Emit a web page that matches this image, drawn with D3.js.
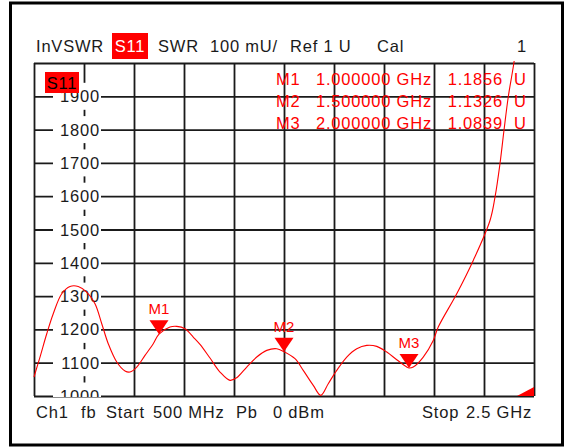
<!DOCTYPE html>
<html>
<head>
  <meta charset="UTF-8">
  <title>InVSWR S11</title>
  <style>
    body { margin: 0; background: #fff; }
    text { font-family: "Liberation Sans", Arial, sans-serif; font-size: 16.5px; letter-spacing: 0.8px; }
  </style>
</head>
<body>
  <script src="https://d3js.org/d3.v7.min.js"></script>
  <script>
// trace data: frequency (GHz) and SWR (mU)
var freqGHz = [0.5, 0.524, 0.551, 0.577, 0.611, 0.644, 0.677, 0.711, 0.744, 0.771, 0.797, 0.831, 0.864, 0.884,
  0.911, 0.944, 0.977, 1.0, 1.044, 1.071, 1.104, 1.137, 1.164, 1.204, 1.244, 1.284, 1.311, 1.351, 1.391, 1.431,
  1.471, 1.5, 1.544, 1.577, 1.617, 1.647, 1.677, 1.711, 1.751, 1.791, 1.831, 1.871, 1.911, 1.951, 1.991, 2.0,
  2.017, 2.057, 2.097, 2.117, 2.191, 2.257, 2.324, 2.344, 2.364, 2.38, 2.397, 2.417, 2.45, 2.5];
var swrMU = [1057, 1117, 1187, 1247, 1307, 1329, 1329, 1312, 1277, 1217, 1157, 1102, 1075, 1072,
  1087, 1122, 1157, 1186, 1207, 1209, 1202, 1177, 1155, 1114, 1072, 1047, 1055, 1087, 1117, 1137,
  1142, 1133, 1112, 1077, 1032, 1002, 1037, 1077, 1117, 1142, 1152, 1149, 1132, 1109, 1087, 1084,
  1087, 1117, 1167, 1207, 1307, 1407, 1527, 1597, 1698, 1798, 1898, 1988, 2150, 2400];

// markers
var markerNames = ["M1", "M2", "M3"];
var markerFreq = [1.0, 1.5, 2.0];
var markerVal = [1.1856, 1.1326, 1.0839];

// axis labels
var yLabels = [1000, 1100, 1200, 1300, 1400, 1500, 1600, 1700, 1800, 1900];
var xGrid = [0.5, 0.7, 0.9, 1.1, 1.3, 1.5, 1.7, 1.9, 2.1, 2.3, 2.5];
var yGrid = [1000, 1100, 1200, 1300, 1400, 1500, 1600, 1700, 1800, 1900, 2000];

var W = 567, H = 447;
var pL = 34, pR = 534, pT = 63, pB = 396;
var ink = "#1a1a1a", red = "#ff0000";

var svg = d3.select("body").append("svg").attr("width", W).attr("height", H);

var x = d3.scaleLinear().domain([0.5, 2.5]).range([pL, pR]);
var y = d3.scaleLinear().domain([1000, 2000]).range([pB, pT]);

// outer frame
svg.append("rect")
  .attr("x", 10.5).attr("y", 3).attr("width", 552).attr("height", 442)
  .attr("fill", "none").attr("stroke", "#000").attr("stroke-width", 3);

svg.append("clipPath").attr("id", "plot")
  .append("rect").attr("x", pL - 2).attr("y", pT - 2)
  .attr("width", pR - pL + 4).attr("height", pB - pT + 3);

// grid
var gx = svg.append("g").attr("transform", "translate(0," + pB + ")")
  .call(d3.axisBottom(x).tickValues(xGrid).tickSize(-(pB - pT)).tickFormat(""));
var gy = svg.append("g").attr("transform", "translate(" + pL + ",0)")
  .call(d3.axisLeft(y).tickValues(yGrid).tickSize(-(pR - pL)).tickFormat(""));
[gx, gy].forEach(g => {
  g.select(".domain").remove();
  g.selectAll("line").attr("stroke", ink).attr("stroke-width", 1.8);
});

// y labels with white boxes over the grid
var lab = svg.append("g").attr("clip-path", "url(#plot)");
var labG = lab.selectAll("g").data(yLabels).enter().append("g")
  .attr("transform", d => "translate(0," + y(d) + ")");
labG.append("rect").attr("x", 53).attr("y", -13.5).attr("width", 48).attr("height", 27).attr("fill", "#fff");
labG.append("text").attr("x", 100).attr("y", 6).attr("text-anchor", "end")
  .attr("fill", ink).text(d => d);

// trace
var pts = freqGHz.map((f, i) => [f, swrMU[i]]);
svg.append("path")
  .attr("clip-path", "url(#plot)")
  .attr("d", d3.line().x(d => x(d[0])).y(d => y(d[1])).curve(d3.curveCatmullRom.alpha(0.5))(pts))
  .attr("fill", "none").attr("stroke", red).attr("stroke-width", 1.1);

// off-scale corner mark
svg.append("path")
  .attr("d", "M" + (x(2.5) - 17) + "," + y(1000) + "L" + x(2.5) + "," + (y(1000) - 9) + "L" + x(2.5) + "," + y(1000) + "Z")
  .attr("fill", red);

// markers
markerNames.forEach((m, i) => {
  var mx = x(markerFreq[i]), my = y(markerVal[i] * 1000);
  svg.append("path")
    .attr("d", "M" + mx + "," + my + "L" + (mx - 9.5) + "," + (my - 14) + "L" + (mx + 9.5) + "," + (my - 14) + "Z")
    .attr("fill", red);
  svg.append("text").attr("x", mx).attr("y", my - 20).attr("text-anchor", "middle")
    .attr("fill", red).style("font-size", "15px").style("letter-spacing", "0px").text(m);
});

// marker readout table
var rowY = [85, 107, 129];
markerNames.forEach((m, i) => {
  svg.append("text").attr("x", 276).attr("y", rowY[i]).attr("fill", red).text(m);
  svg.append("text").attr("x", 432).attr("y", rowY[i]).attr("text-anchor", "end").attr("fill", red)
    .text(markerFreq[i].toFixed(6) + " GHz");
  svg.append("text").attr("x", 503).attr("y", rowY[i]).attr("text-anchor", "end").attr("fill", red)
    .text(markerVal[i].toFixed(4));
  svg.append("text").attr("x", 514).attr("y", rowY[i]).attr("fill", red).text("U");
});

// header
svg.append("rect").attr("x", 112).attr("y", 33).attr("width", 36).attr("height", 26).attr("fill", red);
svg.append("text").attr("x", 130).attr("y", 52).attr("text-anchor", "middle").attr("fill", "#fff").text("S11");
[["InVSWR", 36], ["SWR", 158], ["100 mU/", 210], ["Ref 1 U", 290], ["Cal", 377]].forEach(t => {
  svg.append("text").attr("x", t[1]).attr("y", 52).attr("fill", ink).text(t[0]);
});
svg.append("text").attr("x", 527).attr("y", 52).attr("text-anchor", "end").attr("fill", ink).text("1");

// trace label
svg.append("rect").attr("x", 45).attr("y", 72).attr("width", 34).attr("height", 21).attr("fill", red);
svg.append("text").attr("x", 62).attr("y", 89).attr("text-anchor", "middle").attr("fill", "#000").text("S11");

// footer
[["Ch1", 36], ["fb", 81], ["Start", 106], ["500 MHz", 153], ["Pb", 236], ["0 dBm", 273], ["Stop", 422]].forEach(t => {
  svg.append("text").attr("x", t[1]).attr("y", 418).attr("fill", ink).text(t[0]);
});
svg.append("text").attr("x", 532).attr("y", 418).attr("text-anchor", "end").attr("fill", ink).text("2.5 GHz");
  </script>
</body>
</html>
